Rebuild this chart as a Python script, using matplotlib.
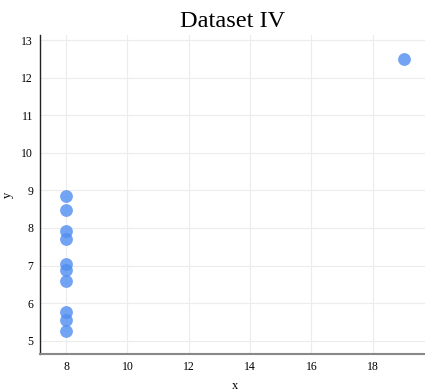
import matplotlib.pyplot as plt

plt.rcParams['font.family'] = ['Liberation Serif', 'DejaVu Serif']

x = [8, 8, 8, 8, 8, 8, 8, 19, 8, 8, 8]
y = [6.58, 5.76, 7.71, 8.84, 8.47, 7.04, 5.25, 12.50, 5.56, 7.91, 6.89]

fig = plt.figure(figsize=(4.25, 3.91), dpi=100)
ax = fig.add_axes([0.094, 0.095, 0.906, 0.815])

ax.scatter(x, y, s=85, color='#4f8ef0', alpha=0.8, linewidths=0, zorder=3)

ax.set_xlim(7.15, 19.7)
ax.set_ylim(4.65, 13.13)
ax.set_xticks(range(8, 20, 2))
ax.set_yticks(range(5, 14))
ax.grid(True, color='#ececec', linewidth=0.8)
ax.tick_params(length=0, labelsize=8.5, pad=5)

for s in ['top', 'right']:
    ax.spines[s].set_visible(False)
ax.spines['left'].set_color('#222222')
ax.spines['left'].set_linewidth(1)
ax.spines['bottom'].set_color('#888888')
ax.spines['bottom'].set_linewidth(1.5)

ax.set_xlabel('x', fontsize=9, va='center')
ax.set_ylabel('y', fontsize=9, va='center')
ax.xaxis.set_label_coords(0.506, -0.1)
ax.yaxis.set_label_coords(-0.083, 0.5)
ax.set_title('Dataset IV', fontsize=17.5, pad=6)

fig.savefig('out.png', dpi=100)
